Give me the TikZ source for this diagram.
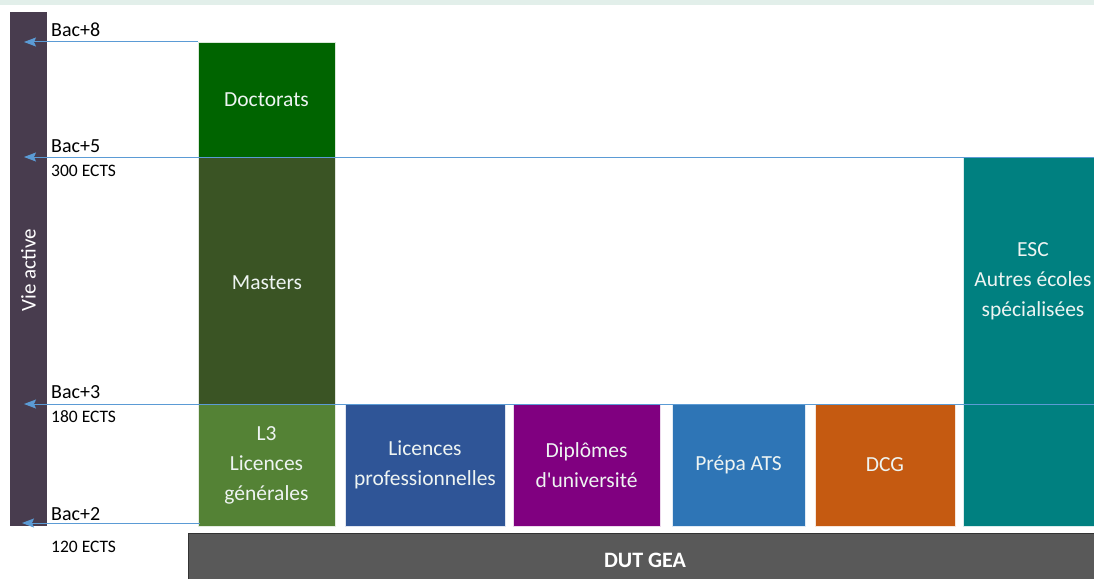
\documentclass[tikz,border=0pt]{standalone}
\usepackage{fontspec}
\setmainfont{Carlito}
\usetikzlibrary{arrows.meta}
\definecolor{strip}{HTML}{E2EFEA}
\definecolor{vie}{HTML}{483C4E}
\definecolor{lineblue}{HTML}{5B9BD5}
\definecolor{cdoc}{HTML}{006400}
\definecolor{cmas}{HTML}{3A5424}
\definecolor{cl3}{HTML}{548235}
\definecolor{clp}{HTML}{2F5597}
\definecolor{cdu}{HTML}{800080}
\definecolor{cats}{HTML}{2E75B6}
\definecolor{cdcg}{HTML}{C55A11}
\definecolor{cesc}{HTML}{008080}
\definecolor{cdut}{HTML}{595959}
\definecolor{boxtext}{HTML}{EEF4F2}
\tikzset{
  box/.style={fill=#1, draw=white!85!#1, line width=0.6pt, inner sep=0pt, outer sep=0pt,
    text=boxtext, align=center, font=\fontsize{21.5}{30}\selectfont},
  boxtxt/.style={text=boxtext, align=center, inner sep=0pt, font=\fontsize{21.5}{30}\selectfont},
  lvl/.style={anchor=west, inner sep=0pt, font=\fontsize{20}{22}\selectfont},
  ects/.style={anchor=west, inner sep=0pt, font=\fontsize{17.5}{19}\selectfont},
  arr/.style={draw=lineblue, line width=1pt, -{Stealth[length=12pt,width=9pt,inset=2pt]}},
}
\begin{document}
\begin{tikzpicture}[x=1pt,y=-1pt]
\useasboundingbox (0,0) rectangle (1094,578);
\fill[white] (0,0) rectangle (1094,578);
\fill[strip] (0,0) rectangle (1094,5);
% Vie active bar
\node[fill=vie, minimum width=37pt, minimum height=514pt, inner sep=0pt, outer sep=0pt, anchor=north west] (vie) at (10,12) {};
\node[rotate=90, text=white, font=\fontsize{21}{24}\selectfont] (vietxt) at (28.5,270) {Vie active};
% boxes
\node[box=cdoc, minimum width=137pt, minimum height=115pt, anchor=north west] (doc) at (198,42) {Doctorats};
\node[box=cmas, minimum width=137pt, minimum height=247pt, anchor=north west] (mas) at (198,157) {};
\node[boxtxt] (mastxt) at (267,283) {Masters};
\node[box=cl3, minimum width=137pt, minimum height=122pt, anchor=north west] (l3) at (198,404) {L3\\Licences\\générales};
\node[box=clp, minimum width=160pt, minimum height=122pt, anchor=north west] (lp) at (345,404) {Licences\\professionnelles};
\node[box=cdu, minimum width=147pt, minimum height=122pt, anchor=north west] (du) at (513,404) {Diplômes\\d\textquotesingle université};
\node[box=cats, minimum width=133pt, minimum height=122pt, anchor=north west] (ats) at (672,404) {Prépa ATS};
\node[box=cdcg, minimum width=140pt, minimum height=122pt, anchor=north west] (dcg) at (815,404) {DCG};
\node[box=cesc, minimum width=140pt, minimum height=369pt, anchor=north west] (esc) at (963,157) {};
\node[boxtxt] (esctxt) at (1033,281) {ESC\\Autres écoles\\spécialisées};
% DUT GEA
\node[fill=cdut, draw=black!80, line width=1pt, minimum width=920pt, minimum height=52pt, inner sep=0pt, outer sep=0pt, anchor=north west] (dut) at (188,533) {};
\node[text=white, font=\fontsize{22}{24}\selectfont\bfseries] (duttxt) at (645,560) {DUT GEA};
% level labels
\node[lvl] (b8) at (51,30) {Bac+8};
\node[lvl] (b5) at (51,146) {Bac+5};
\node[ects] (e5) at (51,171) {300 ECTS};
\node[lvl] (b3) at (51,392) {Bac+3};
\node[ects] (e3) at (51,417) {180 ECTS};
\node[lvl] (b2) at (51,514) {Bac+2};
\node[ects] (e2) at (51,547) {120 ECTS};
% arrow coordinates
\coordinate (v8) at (24,42);
\coordinate (v5) at (24,157);
\coordinate (v3) at (24,404);
\coordinate (v2) at (22,523);
\coordinate (r5) at (1094,157);
\coordinate (r3) at (1094,404);
\coordinate (s2) at (200,523);
\draw[arr] (doc.north west) -- (v8);
\draw[arr] (r5) -- (v5);
\draw[arr] (r3) -- (v3);
\draw[arr] (s2) -- (v2);
\end{tikzpicture}
\end{document}
